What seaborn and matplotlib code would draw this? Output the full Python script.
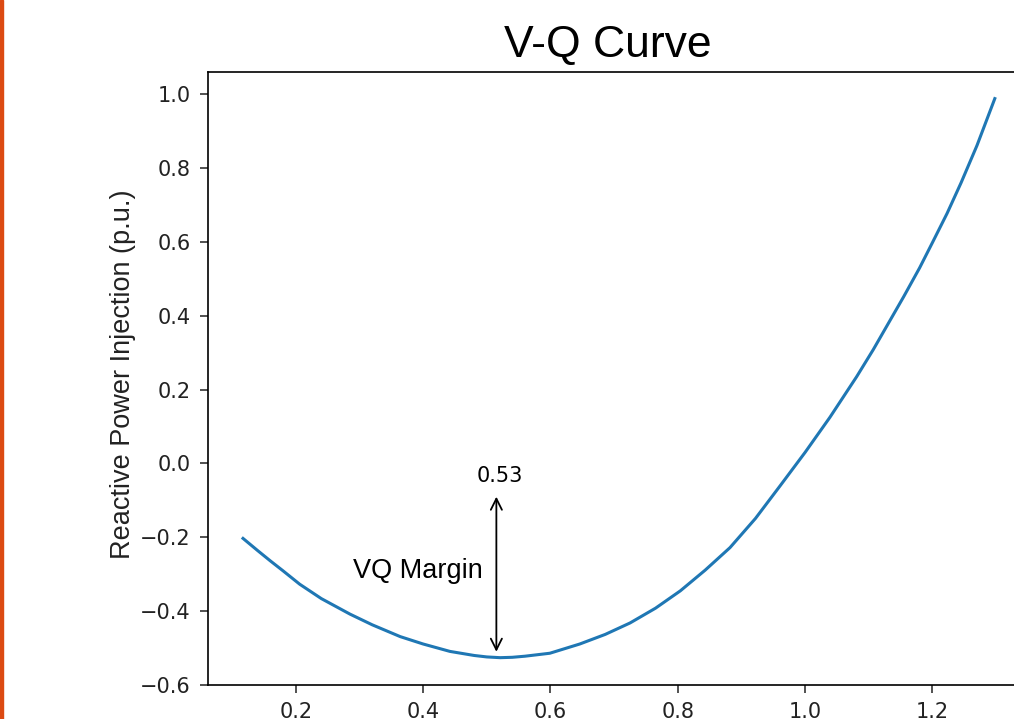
import numpy as np
import pandas as pd
import seaborn as sns
import matplotlib.pyplot as plt
from matplotlib.patches import Rectangle

# values
voltage = [0.117, 0.140, 0.160, 0.180, 0.206, 0.240, 0.285, 0.320, 0.364, 0.400,
           0.442, 0.480, 0.500, 0.521, 0.540, 0.560, 0.599, 0.646, 0.686, 0.725,
           0.765, 0.804, 0.843, 0.882, 0.922, 0.961, 1.000, 1.039, 1.060, 1.081,
           1.107, 1.130, 1.155, 1.180, 1.200, 1.223, 1.245, 1.270, 1.298]
reactive = [-0.203, -0.236, -0.264, -0.291, -0.327, -0.366, -0.408, -0.437, -0.469, -0.489,
            -0.509, -0.520, -0.524, -0.526, -0.525, -0.522, -0.514, -0.489, -0.463, -0.432,
            -0.392, -0.345, -0.289, -0.228, -0.149, -0.060, 0.030, 0.125, 0.180, 0.235,
            0.308, 0.377, 0.452, 0.530, 0.598, 0.677, 0.760, 0.861, 0.988]

margin_v = 0.515
margin_top = -0.09
margin_bottom = -0.51
margin_label = '0.53'

df = pd.DataFrame({'V': voltage, 'Q': reactive})

plt.rcParams['font.size'] = 15
plt.rcParams['axes.linewidth'] = 1.2

fig = plt.figure(figsize=(10.14, 7.19), dpi=100)
ax = fig.add_axes([208 / 1014, 34 / 719, 825 / 1014, 613 / 719])

sns.lineplot(data=df, x='V', y='Q', sort=False, color='#1f77b4', linewidth=2.2, ax=ax)

ax.set_xlim(0.062, 1.358)
ax.set_ylim(-0.600, 1.060)
ax.set_xticks([0.2, 0.4, 0.6, 0.8, 1.0, 1.2])
ax.set_yticks([-0.6, -0.4, -0.2, 0.0, 0.2, 0.4, 0.6, 0.8, 1.0])
ax.tick_params(labelsize=15, length=5.8, width=1.1, pad=6.5, colors='#222222')
ax.set_xlabel('')

ax.set_title('V-Q Curve', fontsize=32, fontname='Liberation Sans', x=0.485, pad=11)
ax.set_ylabel('Reactive Power Injection (p.u.)', fontsize=19.5, fontname='Liberation Sans',
              color='#222222')
ax.yaxis.set_label_coords(-0.087, 0.507)

# margin arrow and labels
ax.annotate('', xy=(margin_v, margin_bottom), xytext=(margin_v, margin_top),
            arrowprops=dict(arrowstyle='<->', mutation_scale=20, lw=1.3, color='black',
                            shrinkA=0, shrinkB=0))
ax.text(0.520, -0.0495, margin_label, fontsize=15, ha='center', va='baseline')
ax.text(0.290, -0.311, 'VQ Margin', fontsize=19.5, fontname='Liberation Sans',
        ha='left', va='baseline')

# orange strip on the left edge of the slide
fig.patches.append(Rectangle((0, 0), 3 / 1014, 1, transform=fig.transFigure,
                             color='#dc4a12', zorder=5))

fig.savefig('out.png', dpi=100)
